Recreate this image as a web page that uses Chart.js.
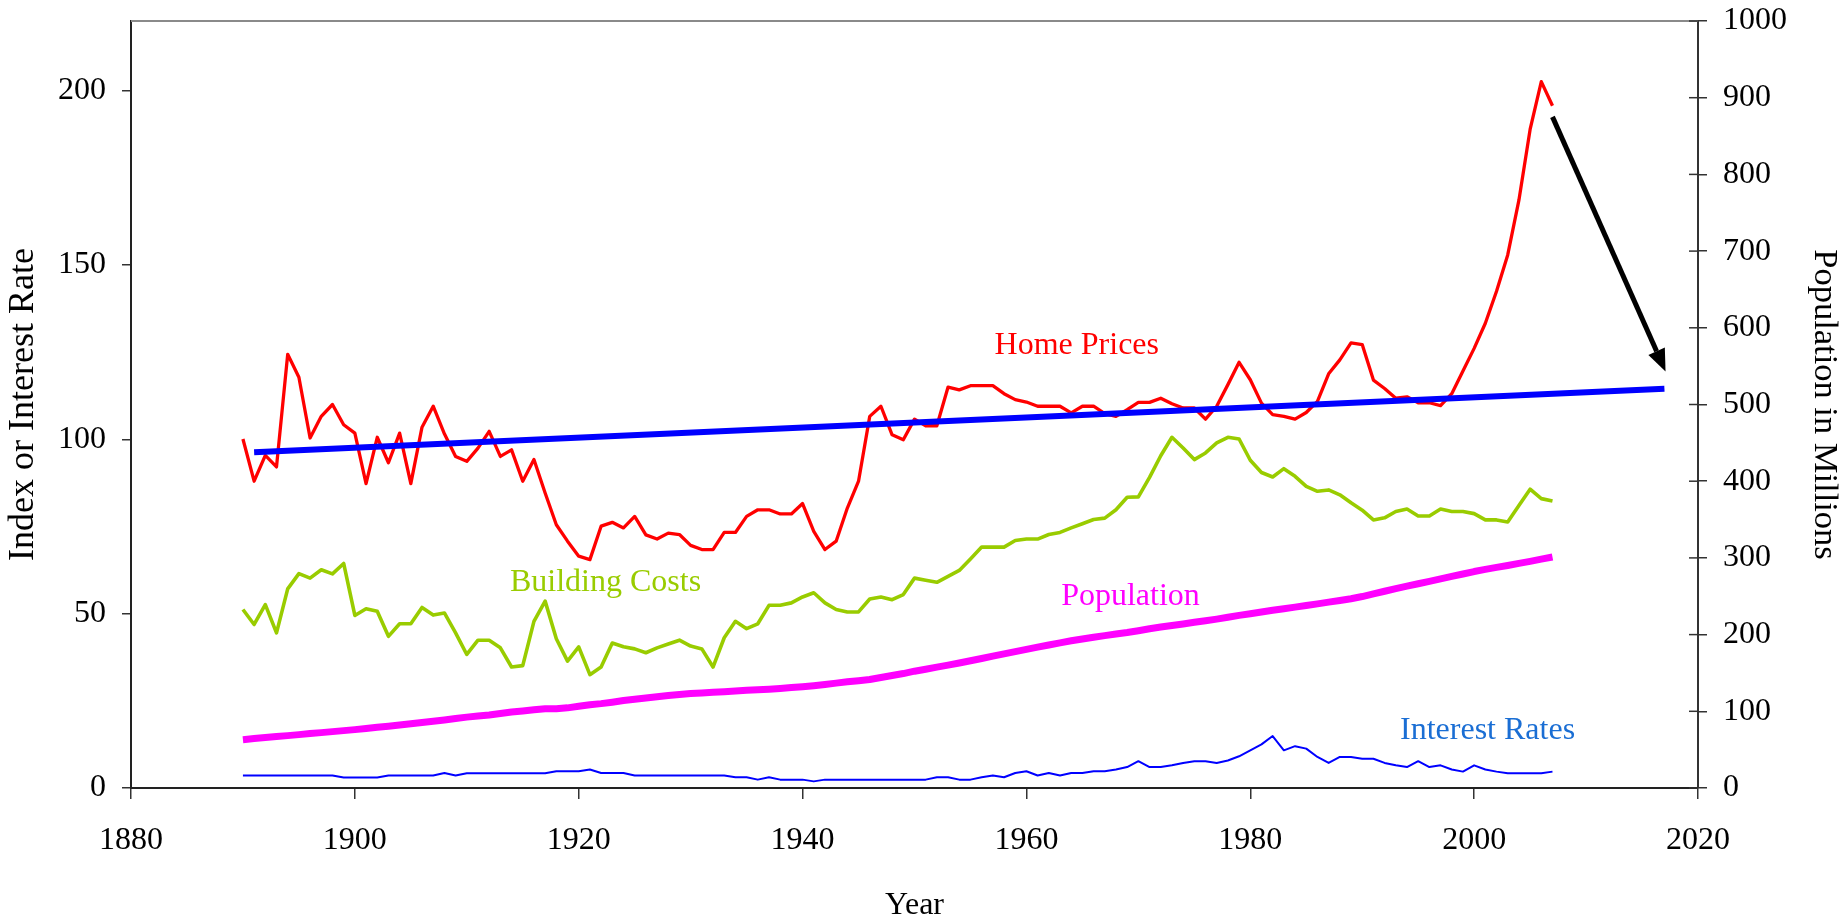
<!DOCTYPE html>
<html>
<head>
<meta charset="utf-8">
<title>Home Prices, Building Costs, Population and Interest Rates</title>
<script src="https://cdn.jsdelivr.net/npm/chart.js@4.4.1/dist/chart.umd.min.js"></script>
<style>
  html, body { margin: 0; padding: 0; background: #fff; }
  #wrap { width: 1848px; height: 919px; position: relative; }
</style>
</head>
<body>
<div id="wrap"><canvas id="chart"></canvas></div>
<script>
// --- Data ---
const years = [
  1890, 1891, 1892, 1893, 1894, 1895, 1896, 1897, 1898, 1899,
  1900, 1901, 1902, 1903, 1904, 1905, 1906, 1907, 1908, 1909,
  1910, 1911, 1912, 1913, 1914, 1915, 1916, 1917, 1918, 1919,
  1920, 1921, 1922, 1923, 1924, 1925, 1926, 1927, 1928, 1929,
  1930, 1931, 1932, 1933, 1934, 1935, 1936, 1937, 1938, 1939,
  1940, 1941, 1942, 1943, 1944, 1945, 1946, 1947, 1948, 1949,
  1950, 1951, 1952, 1953, 1954, 1955, 1956, 1957, 1958, 1959,
  1960, 1961, 1962, 1963, 1964, 1965, 1966, 1967, 1968, 1969,
  1970, 1971, 1972, 1973, 1974, 1975, 1976, 1977, 1978, 1979,
  1980, 1981, 1982, 1983, 1984, 1985, 1986, 1987, 1988, 1989,
  1990, 1991, 1992, 1993, 1994, 1995, 1996, 1997, 1998, 1999,
  2000, 2001, 2002, 2003, 2004, 2005, 2006, 2007
];

const homePrices = [
  100.1, 88.0, 95.4, 92.1, 124.4, 117.8, 100.4, 106.6, 110.0, 104.2,
  101.8, 87.3, 100.6, 93.3, 101.8, 87.3, 103.5, 109.5, 101.6, 95.1,
  93.7, 97.5, 102.3, 95.1, 97.0, 88.0, 94.2, 84.6, 75.5, 70.8,
  66.5, 65.5, 75.1, 76.2, 74.6, 77.9, 72.6, 71.4, 73.1, 72.7,
  69.6, 68.4, 68.4, 73.3, 73.3, 77.9, 79.8, 79.8, 78.6, 78.6,
  81.6, 73.6, 68.4, 70.8, 80.3, 88.0, 106.6, 109.5, 101.3, 99.9,
  105.8, 103.9, 103.9, 115.0, 114.2, 115.4, 115.4, 115.4, 113.1, 111.4,
  110.7, 109.5, 109.5, 109.5, 107.6, 109.5, 109.5, 107.4, 106.6, 108.5,
  110.6, 110.6, 111.8, 110.2, 109.0, 109.0, 105.8, 109.5, 115.7, 122.1,
  117.1, 110.4, 107.1, 106.6, 105.8, 107.7, 110.9, 118.8, 122.8, 127.7,
  127.2, 117.0, 114.6, 111.8, 112.2, 110.5, 110.5, 109.7, 113.1, 119.6,
  126.1, 133.3, 142.5, 152.9, 168.6, 188.9, 202.6, 195.7
];

const buildingCosts = [
  51.2, 46.9, 52.6, 44.5, 57.1, 61.5, 60.2, 62.6, 61.4, 64.4,
  49.5, 51.4, 50.7, 43.5, 47.1, 47.1, 51.8, 49.6, 50.2, 44.5,
  38.3, 42.4, 42.4, 40.2, 34.7, 35.1, 47.8, 53.6, 42.8, 36.4,
  40.5, 32.5, 34.7, 41.6, 40.5, 39.9, 38.8, 40.2, 41.3, 42.4,
  40.7, 39.9, 34.7, 43.1, 47.8, 45.7, 47.1, 52.4, 52.4, 53.1,
  54.8, 56.0, 53.1, 51.2, 50.5, 50.5, 54.2, 54.8, 54.0, 55.5,
  60.2, 59.6, 59.0, 60.7, 62.4, 65.7, 69.1, 69.1, 69.1, 71.0,
  71.4, 71.4, 72.7, 73.3, 74.6, 75.8, 77.0, 77.4, 79.8, 83.4,
  83.5, 89.1, 95.3, 100.6, 97.5, 94.2, 96.1, 99.0, 100.6, 100.1,
  94.0, 90.5, 89.2, 91.6, 89.4, 86.5, 85.1, 85.5, 84.1, 81.8,
  79.7, 76.9, 77.5, 79.3, 80.0, 78.0, 78.0, 80.0, 79.3, 79.3,
  78.7, 76.9, 76.9, 76.3, 81.0, 85.7, 83.0, 82.3
];

// population in millions (right axis)
const population = [
  62.9, 64.4, 65.7, 67.0, 68.3, 69.6, 71.0, 72.2, 73.5, 74.8,
  76.1, 77.6, 79.2, 80.6, 82.2, 83.8, 85.5, 87.0, 88.7, 90.5,
  92.4, 93.9, 95.3, 97.2, 99.1, 100.5, 102.0, 103.3, 103.2, 104.5,
  106.5, 108.5, 110.0, 111.9, 114.1, 115.8, 117.4, 119.0, 120.5, 121.8,
  123.1, 124.0, 124.8, 125.6, 126.4, 127.3, 128.1, 128.8, 129.8, 130.9,
  132.1, 133.4, 134.9, 136.7, 138.4, 139.9, 141.4, 144.1, 146.6, 149.2,
  152.3, 154.9, 157.6, 160.2, 163.0, 165.9, 168.9, 172.0, 174.9, 177.8,
  180.7, 183.7, 186.5, 189.2, 191.9, 194.3, 196.6, 198.7, 200.7, 202.7,
  205.1, 207.7, 209.9, 211.9, 213.9, 216.0, 218.0, 220.2, 222.6, 225.1,
  227.2, 229.5, 231.7, 233.8, 235.8, 237.9, 240.1, 242.3, 244.5, 246.8,
  249.6, 253.0, 256.5, 259.9, 263.1, 266.3, 269.4, 272.6, 275.9, 279.0,
  282.2, 285.0, 287.6, 290.1, 292.8, 295.5, 298.4, 301.2
];

const interestRates = [
  3.6, 3.6, 3.6, 3.6, 3.6, 3.6, 3.6, 3.6, 3.6, 3.0,
  3.0, 3.0, 3.0, 3.6, 3.6, 3.6, 3.6, 3.6, 4.3, 3.6,
  4.2, 4.2, 4.2, 4.2, 4.2, 4.2, 4.2, 4.2, 4.8, 4.8,
  4.8, 5.3, 4.3, 4.3, 4.3, 3.6, 3.6, 3.6, 3.6, 3.6,
  3.6, 3.6, 3.6, 3.6, 3.1, 3.1, 2.4, 3.1, 2.4, 2.4,
  2.4, 1.9, 2.4, 2.4, 2.4, 2.4, 2.4, 2.4, 2.4, 2.4,
  2.4, 2.4, 3.1, 3.1, 2.4, 2.4, 3.1, 3.6, 3.1, 4.3,
  4.8, 3.6, 4.3, 3.6, 4.3, 4.3, 4.8, 4.8, 5.3, 6.0,
  7.7, 6.0, 6.0, 6.5, 7.2, 7.7, 7.7, 7.2, 7.9, 9.1,
  10.8, 12.5, 14.9, 10.8, 12.0, 11.3, 8.9, 7.2, 8.9, 8.9,
  8.4, 8.4, 7.2, 6.5, 6.0, 7.7, 6.0, 6.5, 5.3, 4.7,
  6.5, 5.3, 4.7, 4.2, 4.2, 4.2, 4.2, 4.7
];

// straight trend line and the arrow, in (year, index) pairs
const trendYears = [1891, 2017];
const trendValues = [96.3, 114.5];
const arrowYears = [2007.0, 2017.1];
const arrowValues = [192.5, 119.5];

// in-chart series labels
const labelTexts = ['Home Prices', 'Building Costs', 'Population', 'Interest Rates'];
const labelYears = [1964.5, 1922.4, 1969.3, 2001.2];
const labelValues = [124.6, 56.6, 52.5, 14.0];
const labelColors = ['#ff0000', '#99cc00', '#ff00ff', '#1a6ed4'];

const xTicks = [1880, 1900, 1920, 1940, 1960, 1980, 2000, 2020];

// --- Helpers ---
const toPoints = (xs, ys) => xs.map((x, i) => ({ x: x, y: ys[i] }));
const SERIF = '"Liberation Serif", "Times New Roman", serif';
Chart.defaults.font.family = SERIF;
Chart.defaults.color = '#000';

// keep the plot box where the reference has it
function fixVertical(width) {
  return s => { s.width = width; s.paddingTop = 0; s.paddingBottom = 0; };
}

// top border, inner halves of right ticks, arrow and series labels
const overlayPlugin = {
  id: 'overlay',
  afterDatasetsDraw(chart) {
    const { ctx, chartArea, scales } = chart;
    const x = scales.x, y = scales.y, y2 = scales.y2;
    ctx.save();

    ctx.strokeStyle = '#8a8a8a';
    ctx.lineWidth = 2;
    ctx.beginPath();
    ctx.moveTo(chartArea.left, chartArea.top);
    ctx.lineTo(chartArea.right, chartArea.top);
    ctx.stroke();

    ctx.strokeStyle = '#333';
    ctx.lineWidth = 1.5;
    y2.ticks.forEach(t => {
      const py = y2.getPixelForValue(t.value);
      ctx.beginPath();
      ctx.moveTo(chartArea.right - 9, py);
      ctx.lineTo(chartArea.right, py);
      ctx.stroke();
    });

    // arrow
    const x0 = x.getPixelForValue(arrowYears[0]), y0 = y.getPixelForValue(arrowValues[0]);
    const x1 = x.getPixelForValue(arrowYears[1]), y1 = y.getPixelForValue(arrowValues[1]);
    const ang = Math.atan2(y1 - y0, x1 - x0);
    const headLen = 22, headHalf = 9;
    const bx = x1 - headLen * Math.cos(ang), by = y1 - headLen * Math.sin(ang);
    ctx.strokeStyle = '#000';
    ctx.fillStyle = '#000';
    ctx.lineWidth = 5;
    ctx.beginPath();
    ctx.moveTo(x0, y0);
    ctx.lineTo(bx, by);
    ctx.stroke();
    ctx.beginPath();
    ctx.moveTo(x1, y1);
    ctx.lineTo(bx + headHalf * Math.sin(ang), by - headHalf * Math.cos(ang));
    ctx.lineTo(bx - headHalf * Math.sin(ang), by + headHalf * Math.cos(ang));
    ctx.closePath();
    ctx.fill();

    ctx.font = '32px ' + SERIF;
    ctx.textAlign = 'center';
    ctx.textBaseline = 'alphabetic';
    labelTexts.forEach((txt, i) => {
      ctx.fillStyle = labelColors[i];
      ctx.fillText(txt, x.getPixelForValue(labelYears[i]), y.getPixelForValue(labelValues[i]));
    });
    ctx.restore();
  }
};

// --- Chart ---
const ctx = document.getElementById('chart').getContext('2d');
new Chart(ctx, {
  type: 'line',
  data: {
    datasets: [
      {
        label: 'Trend', data: toPoints(trendYears, trendValues),
        borderColor: '#0000ff', borderWidth: 6, pointRadius: 0, order: 0
      },
      {
        label: 'Home Prices', data: toPoints(years, homePrices),
        borderColor: '#ff0000', borderWidth: 3.3, pointRadius: 0, order: 1
      },
      {
        label: 'Building Costs', data: toPoints(years, buildingCosts),
        borderColor: '#99cc00', borderWidth: 3.6, pointRadius: 0, order: 2
      },
      {
        label: 'Population', data: toPoints(years, population), yAxisID: 'y2',
        borderColor: '#ff00ff', borderWidth: 7, pointRadius: 0, order: 3
      },
      {
        label: 'Interest Rates', data: toPoints(years, interestRates),
        borderColor: '#0000ff', borderWidth: 2, pointRadius: 0, order: 4
      }
    ]
  },
  options: {
    responsive: true,
    maintainAspectRatio: false,
    animation: false,
    events: [],
    layout: { padding: { top: 21, left: 0, right: 0, bottom: 0 } },
    plugins: { legend: { display: false }, tooltip: { enabled: false } },
    elements: { line: { tension: 0, borderJoinStyle: 'round' } },
    scales: {
      x: {
        type: 'linear', min: 1880, max: 2020,
        afterBuildTicks: s => { s.ticks = xTicks.map(v => ({ value: v })); },
        afterFit: s => { s.height = 131; s.paddingLeft = 0; s.paddingRight = 0; },
        ticks: { font: { size: 32 }, padding: 22, maxRotation: 0, callback: v => String(v) },
        grid: { drawOnChartArea: false, tickLength: 11, color: '#333', lineWidth: 1.5 },
        border: { color: '#222', width: 2 },
        title: { display: true, text: 'Year', font: { size: 32, lineHeight: 0.8 }, padding: { top: 0, bottom: 1 } }
      },
      y: {
        position: 'left', min: 0, max: 220,
        afterBuildTicks: s => { s.ticks = s.ticks.filter(t => t.value % 50 === 0); },
        afterFit: fixVertical(131),
        ticks: { stepSize: 50, font: { size: 32 }, padding: 16 },
        grid: { drawOnChartArea: false, tickLength: 9, color: '#333', lineWidth: 1.5 },
        border: { color: '#222', width: 2 },
        title: { display: true, text: 'Index or Interest Rate', font: { size: 36 }, padding: { top: 1.5, bottom: 0 } }
      },
      y2: {
        position: 'right', min: 0, max: 1000,
        afterFit: fixVertical(150),
        ticks: { stepSize: 100, font: { size: 32 }, padding: 16, callback: v => String(v) },
        grid: { drawOnChartArea: false, tickLength: 9, color: '#333', lineWidth: 1.5 },
        border: { color: '#333', width: 2 },
        title: { display: true, text: 'Population in Millions', font: { size: 34.5 }, padding: { top: 3.3, bottom: 0 } }
      }
    }
  },
  plugins: [overlayPlugin]
});
</script>
</body>
</html>
